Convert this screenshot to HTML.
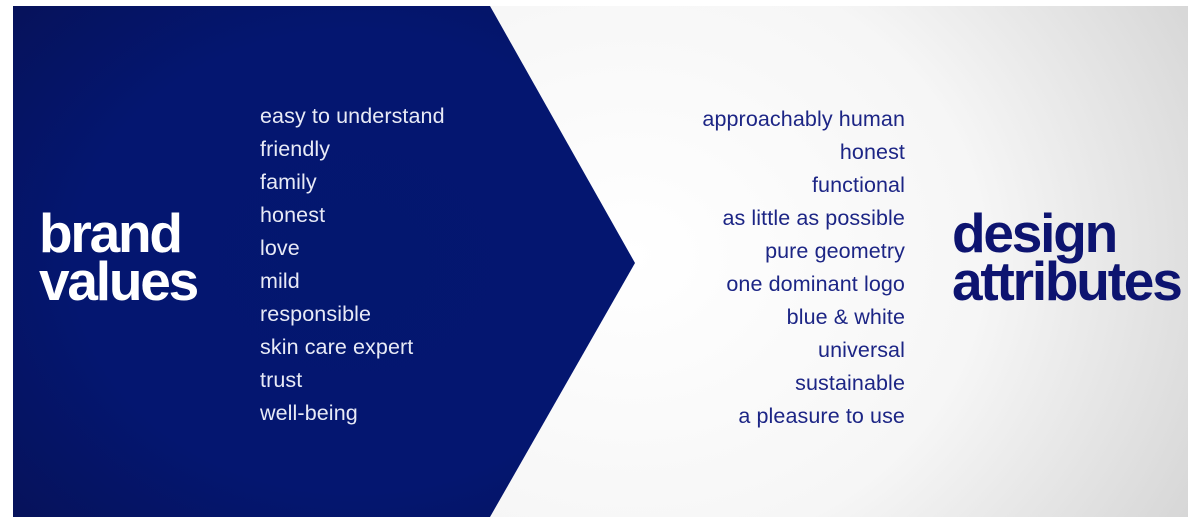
<!DOCTYPE html>
<html><head><style>
html,body{margin:0;padding:0;background:#fff;}
body{width:1194px;height:528px;position:relative;overflow:hidden;font-family:"Liberation Sans",sans-serif;}
.slide{position:absolute;left:13px;top:6px;width:1175px;height:511px;background:radial-gradient(ellipse 700px 600px at 620px 250px,#ffffff 0%,#f6f6f6 50%,#cfcfcf 100%);overflow:hidden;}
svg{position:absolute;left:0;top:0;}
.list{position:absolute;font-size:21.5px;line-height:33px;letter-spacing:0.1px;}
.l{left:247px;top:94px;color:#e8eaf6;}
.r{right:283px;top:97px;color:#1c2585;text-align:right;}
.h{position:absolute;font-weight:bold;font-size:55px;line-height:48px;letter-spacing:-2.2px;}
.hl{left:26px;top:203px;color:#fff;}
.hr{left:939px;top:203px;color:#0d1470;}
</style></head><body>
<div class="slide">
<svg width="1175" height="511">
<defs><radialGradient id="g" cx="0.55" cy="0.5" r="0.75"><stop offset="0" stop-color="#03176f"/><stop offset="0.6" stop-color="#041670"/><stop offset="1" stop-color="#06125a"/></radialGradient></defs>
<polygon points="0,0 477,0 622,257 477,511 0,511" fill="url(#g)"/>
</svg>
<div class="h hl">brand<br>values</div>
<div class="list l">easy to understand<br>friendly<br>family<br>honest<br>love<br>mild<br>responsible<br>skin care expert<br>trust<br>well-being</div>
<div class="list r">approachably human<br>honest<br>functional<br>as little as possible<br>pure geometry<br>one dominant logo<br>blue &amp; white<br>universal<br>sustainable<br>a pleasure to use</div>
<div class="h hr">design<br>attributes</div>
</div>
</body></html>
